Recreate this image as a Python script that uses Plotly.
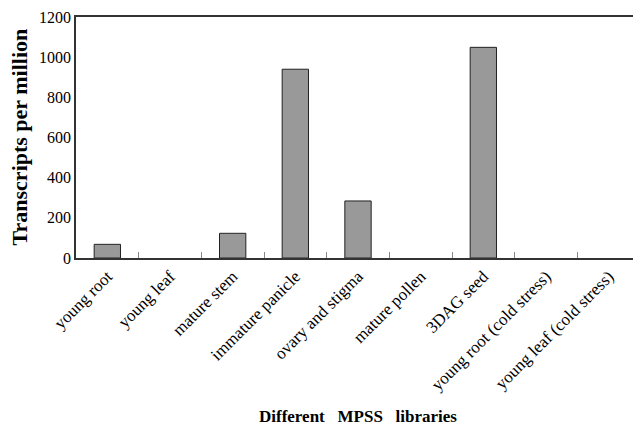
import plotly.graph_objects as go

categories = ["young root", "young leaf", "mature stem", "immature panicle",
              "ovary and stigma", "mature pollen", "3DAG seed",
              "young root (cold stress)", "young leaf (cold stress)"]
values = [68, 0, 123, 940, 284, 0, 1049, 0, 0]
y_ticks = [0, 200, 400, 600, 800, 1000, 1200]

line_widths = [1 if v > 0 else 0 for v in values]

fig = go.Figure(go.Bar(
    x=categories, y=values,
    marker=dict(color="#999999", line=dict(color="#222222", width=line_widths)),
    width=0.42,
))

font = "Liberation Serif, Times New Roman, serif"
fig.update_layout(
    width=633, height=420,
    margin=dict(l=68, r=1, t=9, b=170, autoexpand=False),
    paper_bgcolor="white", plot_bgcolor="white",
    showlegend=False,
    font=dict(family=font, color="black", size=15),
    xaxis=dict(
        type="category", tickangle=-45, tickson="boundaries",
        ticks="inside", ticklen=6, tickcolor="#888888",
        showline=True, linecolor="#333333", linewidth=1.5, mirror=True,
        showgrid=False, tickfont=dict(size=17, family=font), automargin=False,
    ),
    yaxis=dict(
        range=[0, 1200], tickvals=y_ticks, ticks="",
        showline=True, linecolor="#333333", linewidth=1.5, mirror=True,
        showgrid=False, zeroline=False, tickfont=dict(size=16, family=font),
        automargin=False,
    ),
    annotations=[
        dict(
            text="<b>Different &nbsp; MPSS &nbsp; libraries</b>",
            xref="paper", yref="paper", x=0.5, y=0, yshift=-158,
            showarrow=False, font=dict(size=17, family=font),
            xanchor="center", yanchor="middle",
        ),
        dict(
            text="<b>Transcripts per million</b>", textangle=-90,
            xref="paper", yref="paper", x=0, y=0.5, xshift=-57,
            showarrow=False, font=dict(size=22, family=font),
            xanchor="center", yanchor="middle",
        ),
    ],
)

fig.write_html("out.html")
